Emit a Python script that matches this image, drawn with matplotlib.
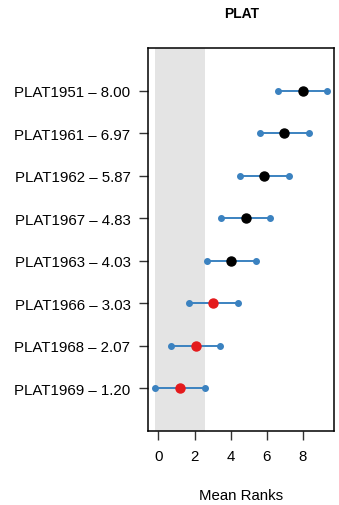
import matplotlib
matplotlib.use("Agg")
import matplotlib.pyplot as plt

plt.rcParams["font.family"] = ["Liberation Sans", "DejaVu Sans"]

# dados (de baixo para cima)
names = ["PLAT1969", "PLAT1968", "PLAT1966", "PLAT1963",
         "PLAT1967", "PLAT1962", "PLAT1961", "PLAT1951"]
means = [1.20, 2.07, 3.03, 4.03, 4.83, 5.87, 6.97, 8.00]
lower = [-0.17, 0.70, 1.67, 2.67, 3.47, 4.50, 5.60, 6.63]
upper = [2.56, 3.43, 4.40, 5.40, 6.20, 7.23, 8.33, 9.36]
signif = [True, True, True, False, False, False, False, False]

blue = "#3b82c0"
fig = plt.figure(figsize=(3.39, 5.06), dpi=100)
ax = fig.add_axes([0.438, 0.147, 0.548, 0.756])

ys = list(range(1, len(names) + 1))
ax.axvspan(lower[0], upper[0], color="#e4e4e4", lw=0, zorder=0)
for y, lo, hi, m, s in zip(ys, lower, upper, means, signif):
    ax.plot([lo, hi], [y, y], color=blue, lw=1.4, zorder=2)
    ax.plot([lo, hi], [y, y], "o", color=blue, ms=4, zorder=3)
    ax.plot(m, y, "o", color="#e41a1c" if s else "black", ms=6.5, zorder=4)

ax.set_xlim(-0.55, 9.74)
ax.set_ylim(0, 9)
ax.set_xticks([0, 2, 4, 6, 8])
ax.set_yticks(ys)
ax.set_yticklabels([f"{n} \u2013 {m:.2f}" for n, m in zip(names, means)])
ax.tick_params(labelsize=10.8, length=6.5, width=1, pad=6.5, color="#333333")
for sp in ax.spines.values():
    sp.set_linewidth(1.1)

fig.text(0.712, 0.972, "PLAT", ha="center", va="center",
         fontsize=10, fontweight="bold")
fig.text(0.712, 0.020, "Mean Ranks", ha="center", va="center", fontsize=10.8)

plt.savefig("out.png", dpi=100)
